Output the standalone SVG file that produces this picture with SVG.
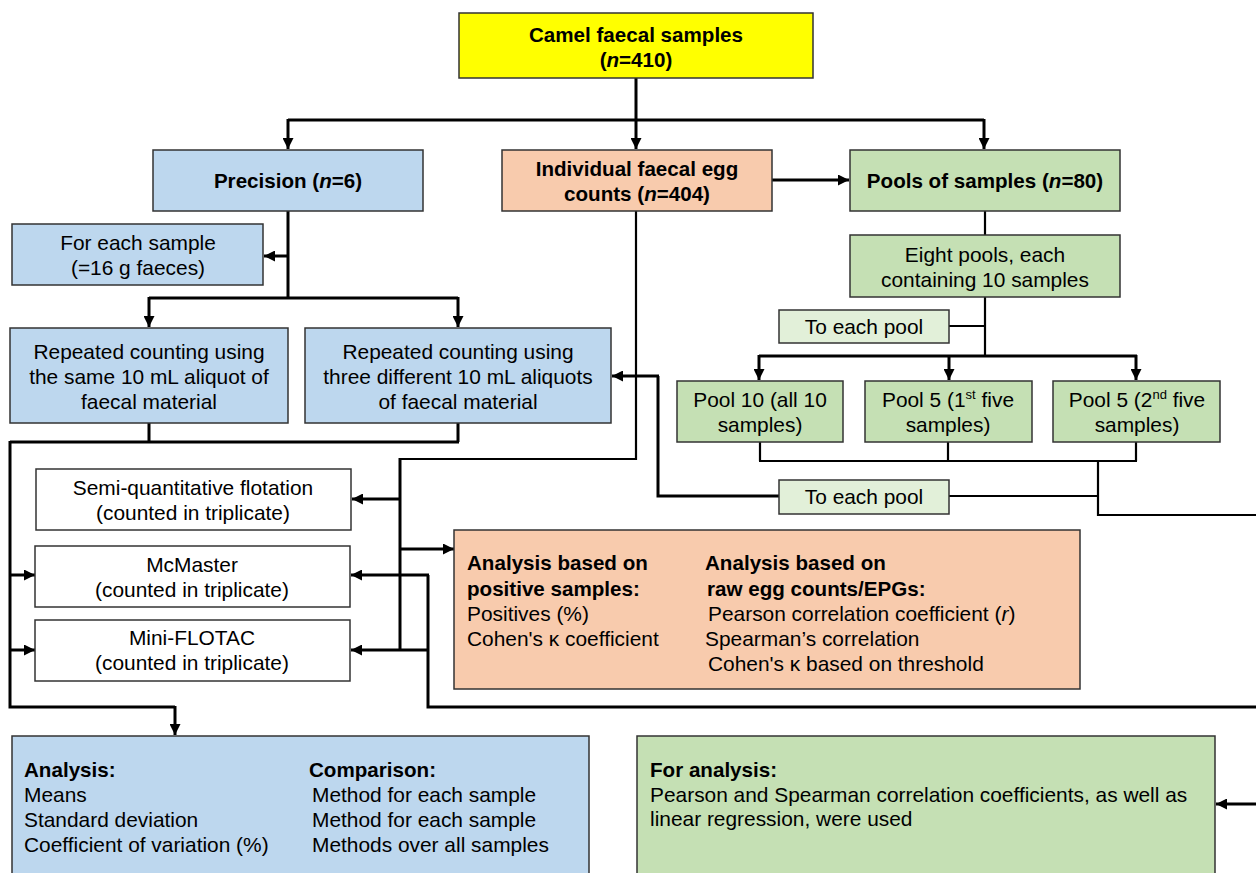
<svg xmlns="http://www.w3.org/2000/svg" width="1256" height="873" viewBox="0 0 1256 873">
<style>
text{font-family:"Liberation Sans",Arial,sans-serif;font-size:20.9px;fill:#000}
.c{text-anchor:middle}
.b{font-weight:bold;font-size:20.6px}
.box{stroke:#333;stroke-width:1.5}
.yel{fill:#FFFF00}
.blu{fill:#BDD7EE}
.ora{fill:#F8CBAD}
.grn{fill:#C5E0B4}
.lgr{fill:#E2F0D9}
.wht{fill:#FFFFFF}
.ln{fill:none;stroke:#000;stroke-width:3}
.tn{fill:none;stroke:#000;stroke-width:2.2}
.ar{marker-end:url(#ah)}
</style>
<defs>
<marker id="ah" viewBox="0 0 10 10" refX="10" refY="5" markerWidth="11" markerHeight="11" markerUnits="userSpaceOnUse" orient="auto">
<path d="M0,0 L10,5 L0,10 z" fill="#000"/>
</marker>
</defs>
<rect width="1256" height="873" fill="#fff"/>
<g id="connectors">
<path class="ln" d="M636,78 V120 M288,120 H984"/>
<path class="ln ar" d="M288,119 V149"/>
<path class="ln ar" d="M636,119 V149"/>
<path class="ln ar" d="M984,119 V149"/>
<path class="ln" d="M288,211 V298 M149,298 H458"/>
<path class="ln ar" d="M288,256 H264"/>
<path class="ln ar" d="M149,297 V327"/>
<path class="ln ar" d="M458,297 V327"/>
<path class="ln" d="M149,423 V442 M458,423 V442 M10,442 H459 M10,441 V707 H175"/>
<path class="ln ar" d="M175,706 V735"/>
<path class="ln ar" d="M9,575 H35"/>
<path class="ln ar" d="M9,650 H35"/>
<path class="ln ar" d="M772,180 H849"/>
<path class="tn" d="M636,211 V459 H400"/>
<path class="ln" d="M400,458 V651"/>
<path class="ln ar" d="M401,499 H352"/>
<path class="ln ar" d="M400,549 H454"/>
<path class="ln ar" d="M429,650 H351"/>
<path class="ln" d="M428,575 V707 H1256"/>
<path class="ln ar" d="M429,575 H351"/>
<path class="tn" d="M985,211 V235 M985,297 V356 M949,326 H985"/>
<path class="ln" d="M759,356 H1137"/>
<path class="ln ar" d="M759,355 V380"/>
<path class="ln ar" d="M949,355 V380"/>
<path class="ln ar" d="M1136,355 V380"/>
<path class="tn" d="M760,442 V461 M948,442 V461 M1136,442 V461 M759,461 H1137 M1098,461 V515 H1256 M949,496 H1098"/>
<path class="ln" d="M779,496 H658 V376"/>
<path class="ln ar" d="M659,376 H612"/>
<path class="ln ar" d="M1256,804 H1216"/>
</g>
<g id="camel">
<rect class="box yel" x="459" y="13" width="354" height="65"/>
<text class="c b" x="636" y="42">Camel faecal samples</text>
<text class="c b" x="636" y="67">(<tspan font-style="italic">n</tspan>=410)</text>
</g>
<g id="precision">
<rect class="box blu" x="153" y="150" width="270" height="61"/>
<text class="c b" x="288" y="188">Precision (<tspan font-style="italic">n</tspan>=6)</text>
</g>
<g id="individual">
<rect class="box ora" x="502" y="150" width="270" height="61"/>
<text class="c b" x="637" y="176">Individual faecal egg</text>
<text class="c b" x="637" y="201">counts (<tspan font-style="italic">n</tspan>=404)</text>
</g>
<g id="pools">
<rect class="box grn" x="850" y="150" width="270" height="61"/>
<text class="c b" x="985" y="188">Pools of samples (<tspan font-style="italic">n</tspan>=80)</text>
</g>
<g id="foreach">
<rect class="box blu" x="12" y="224" width="251" height="61"/>
<text class="c" x="138" y="250">For each sample</text>
<text class="c" x="138" y="275">(=16 g faeces)</text>
</g>
<g id="eightpools">
<rect class="box grn" x="850" y="235" width="270" height="62"/>
<text class="c" x="985" y="262">Eight pools, each</text>
<text class="c" x="985" y="287">containing 10 samples</text>
</g>
<g id="toeach1">
<rect class="box lgr" x="779" y="310" width="170" height="33"/>
<text class="c" x="864" y="334">To each pool</text>
</g>
<g id="repeated1">
<rect class="box blu" x="10" y="328" width="278" height="95"/>
<text class="c" x="149" y="359">Repeated counting using</text>
<text class="c" x="149" y="384">the same 10 mL aliquot of</text>
<text class="c" x="149" y="409">faecal material</text>
</g>
<g id="repeated2">
<rect class="box blu" x="305" y="328" width="306" height="95"/>
<text class="c" x="458" y="359">Repeated counting using</text>
<text class="c" x="458" y="384">three different 10 mL aliquots</text>
<text class="c" x="458" y="409">of faecal material</text>
</g>
<g id="pool10">
<rect class="box grn" x="677" y="381" width="166" height="61"/>
<text class="c" x="760" y="407">Pool 10 (all 10</text>
<text class="c" x="760" y="432">samples)</text>
</g>
<g id="pool5a">
<rect class="box grn" x="865" y="381" width="167" height="61"/>
<text class="c" x="948" y="407">Pool 5 (1<tspan font-size="13" dy="-8">st</tspan><tspan dy="8"> five</tspan></text>
<text class="c" x="948" y="432">samples)</text>
</g>
<g id="pool5b">
<rect class="box grn" x="1053" y="381" width="167" height="61"/>
<text class="c" x="1137" y="407">Pool 5 (2<tspan font-size="13" dy="-8">nd</tspan><tspan dy="8"> five</tspan></text>
<text class="c" x="1137" y="432">samples)</text>
</g>
<g id="toeach2">
<rect class="box lgr" x="779" y="480" width="170" height="34"/>
<text class="c" x="864" y="504">To each pool</text>
</g>
<g id="semi">
<rect class="box wht" x="36" y="469" width="315" height="61"/>
<text class="c" x="193" y="495">Semi-quantitative flotation</text>
<text class="c" x="193" y="520">(counted in triplicate)</text>
</g>
<g id="mcmaster">
<rect class="box wht" x="35" y="546" width="315" height="61"/>
<text class="c" x="192" y="572">McMaster</text>
<text class="c" x="192" y="597">(counted in triplicate)</text>
</g>
<g id="miniflotac">
<rect class="box wht" x="35" y="620" width="315" height="61"/>
<text class="c" x="192" y="645">Mini-FLOTAC</text>
<text class="c" x="192" y="670">(counted in triplicate)</text>
</g>
<g id="orange-analysis">
<rect class="box ora" x="454" y="530" width="626" height="159"/>
<text class="b" x="467" y="570">Analysis based on</text>
<text class="b" x="467" y="596">positive samples:</text>
<text x="467" y="621">Positives (%)</text>
<text x="467" y="646">Cohen's κ coefficient</text>
<text class="b" x="705" y="570">Analysis based on</text>
<text class="b" x="707" y="596">raw egg counts/EPGs:</text>
<text x="708" y="621">Pearson correlation coefficient (<tspan font-style="italic">r</tspan>)</text>
<text x="705" y="646">Spearman’s correlation</text>
<text x="708" y="671">Cohen's κ based on threshold</text>
</g>
<g id="blue-analysis">
<rect class="box blu" x="12" y="736" width="577" height="150"/>
<text class="b" x="24" y="777">Analysis:</text>
<text x="24" y="802">Means</text>
<text x="24" y="827">Standard deviation</text>
<text x="24" y="852">Coefficient of variation (%)</text>
<text class="b" x="309" y="777">Comparison:</text>
<text x="312" y="802">Method for each sample</text>
<text x="312" y="827">Method for each sample</text>
<text x="312" y="852">Methods over all samples</text>
</g>
<g id="green-analysis">
<rect class="box grn" x="637" y="736" width="578" height="150"/>
<text class="b" x="650" y="777">For analysis:</text>
<text x="650" y="802">Pearson and Spearman correlation coefficients, as well as</text>
<text x="650" y="826">linear regression, were used</text>
</g>
</svg>
